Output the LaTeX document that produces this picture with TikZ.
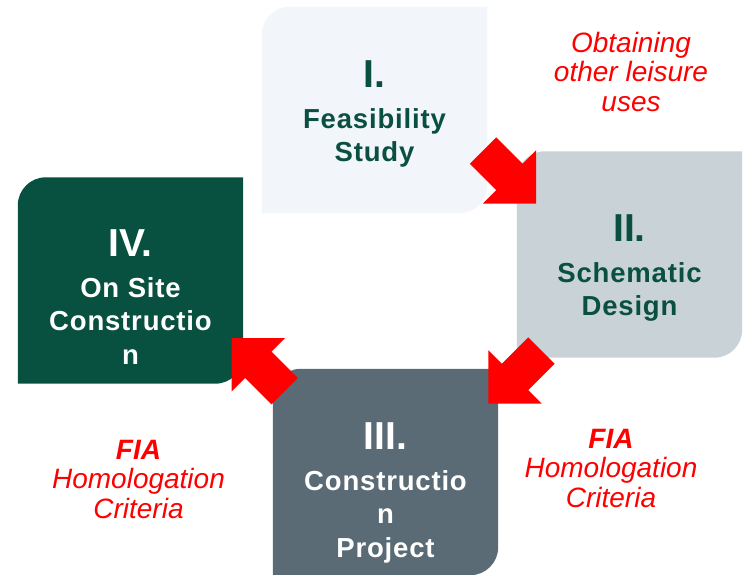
\documentclass[tikz,border=0pt]{standalone}
\usepackage{fontspec}
\setmainfont{Liberation Sans}
\newfontfamily\stagefont{Liberation Sans}[LetterSpace=3]
\usetikzlibrary{positioning, shapes.arrows, backgrounds}
\definecolor{stageone}{HTML}{F2F6FA}
\definecolor{stagetwo}{HTML}{C9D2D7}
\definecolor{stagethree}{HTML}{5A6B76}
\definecolor{stagefour}{HTML}{085040}
\definecolor{stagegreen}{HTML}{0A5040}
\definecolor{noteRed}{HTML}{FF0000}
\tikzset{
  stage/.style = {minimum width=225pt, minimum height=206pt, inner sep=0pt},
  stagetext/.style = {align=center, inner sep=0pt, font=\stagefont\bfseries\fontsize{27.5}{33.5}\selectfont},
  note/.style = {align=center, inner sep=0pt, text=noteRed, font=\itshape\fontsize{28}{29.5}\selectfont},
  flow/.style = {single arrow, fill=noteRed, inner sep=0pt, text height=18.5pt, text depth=18.5pt,
    minimum height=75pt, minimum width=75pt, single arrow head extend=19pt, single arrow tip angle=90}
}
\newcommand\numeral[1]{{\normalfont\bfseries\fontsize{39}{39}\selectfont #1}\\[7pt]}

\begin{document}
\begin{tikzpicture}[x=1pt, y=1pt]
\useasboundingbox (0,0) rectangle (744,574);
% stages
\node[stage] (I)   at (374.5,464)   {};
\node[stage] (II)  at (629.5,319.5) {};
\node[stage] (III) at (385.5,102)   {};
\node[stage] (IV)  at (130.5,293.5) {};
\node[stagetext, text=stagegreen, below=54pt of I.north] (Itext) {\numeral{I.}Feasibility\\Study};
\node[stagetext, text=stagegreen, below=63.5pt of II.north] (IItext) {\numeral{II.}Schematic\\Design};
\node[stagetext, text=white, below=54pt of III.north] (IIItext) {\numeral{III.}Constructio\\n\\Project};
\node[stagetext, text=white, below=52.5pt of IV.north] (IVtext) {\numeral{IV.}On Site\\Constructio\\n};
% arrows
\node[flow, rotate=-45]  (a12) at (503,403.5)   {};
\node[flow, rotate=-135] (a23) at (521.5,203.5) {};
\node[flow, rotate=135]  (a34) at (264.75,202.75) {};
% notes
\node[note, anchor=north] (leisure) at (631,542) {Obtaining\\other leisure\\uses};
\node[note, anchor=north] (fialeft) at (138.5,134) {\bfseries FIA\\Homologation\\Criteria};
\node[note, anchor=north] (fiaright) at (611,145) {\bfseries FIA\\Homologation\\Criteria};
\begin{scope}[on background layer]
\fill[white] (0,0) rectangle (744,574);
\foreach \s/\c in {I/stageone, II/stagetwo, III/stagethree, IV/stagefour}
  \fill[\c] (\s.south west) -- ([yshift=-28pt]\s.north west) arc[start angle=180, end angle=90, radius=28pt]
    -- (\s.north east) -- ([yshift=28pt]\s.south east) arc[start angle=0, end angle=-90, radius=28pt] -- cycle;
\end{scope}
\end{tikzpicture}
\end{document}
